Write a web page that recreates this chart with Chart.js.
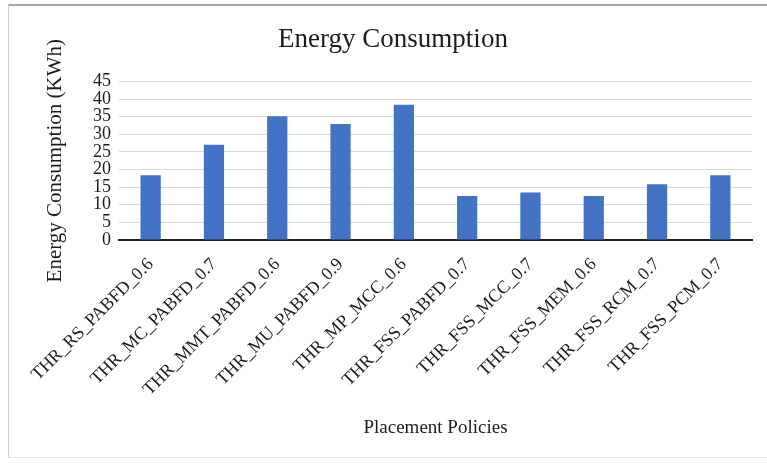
<!DOCTYPE html>
<html>
<head>
<meta charset="utf-8">
<script src="https://cdn.jsdelivr.net/npm/chart.js@4/dist/chart.umd.min.js"></script>
<style>
  html, body { margin: 0; padding: 0; background: #ffffff; }
  #wrap { position: relative; width: 767px; height: 463px; overflow: hidden; }
  #frame {
    position: absolute; left: 8px; top: 4px; width: 770px; height: 454px;
    border-top: 2px solid #a8a8a8; border-left: 1px solid #d2d2d2; border-bottom: 1px solid #e2e2e2;
    box-sizing: border-box; pointer-events: none;
  }
  canvas { position: absolute; left: 0; top: 0; }
</style>
</head>
<body>
<div id="wrap">
  <canvas id="chart" width="767" height="463"></canvas>
  <div id="frame"></div>
</div>
<script>
// Placement policies and their energy consumption (KWh)
const categories = [
  'THR_RS_PABFD_0.6', 'THR_MC_PABFD_0.7', 'THR_MMT_PABFD_0.6', 'THR_MU_PABFD_0.9',
  'THR_MP_MCC_0.6', 'THR_FSS_PABFD_0.7', 'THR_FSS_MCC_0.7', 'THR_FSS_MEM_0.6',
  'THR_FSS_RCM_0.7', 'THR_FSS_PCM_0.7'
];
const energyKWh = [18.4, 27.0, 35.1, 32.9, 38.4, 12.5, 13.5, 12.5, 15.8, 18.4];
const yTicks = [0, 5, 10, 15, 20, 25, 30, 35, 40, 45];

const SERIF = "'Liberation Serif', 'Times New Roman', serif";
const TEXT = '#1c1c1c';

new Chart(document.getElementById('chart'), {
  type: 'bar',
  data: {
    labels: categories,
    datasets: [{
      label: 'Energy Consumption',
      data: energyKWh,
      backgroundColor: '#4472C4',
      borderWidth: 0,
      categoryPercentage: 1.0,
      barPercentage: 0.32
    }]
  },
  options: {
    responsive: false,
    animation: false,
    devicePixelRatio: 1,
    layout: { padding: { left: 34, right: 15, top: 0, bottom: 0 } },
    plugins: {
      legend: { display: false },
      tooltip: { enabled: false },
      title: {
        display: true,
        text: 'Energy Consumption',
        color: TEXT,
        font: { family: SERIF, size: 27, weight: 'normal' },
        padding: { top: 24, bottom: 25 }
      }
    },
    scales: {
      x: {
        z: 1,
        grid: { display: false, drawTicks: false },
        border: { display: true, color: '#222222', width: 2 },
        ticks: {
          color: TEXT,
          font: { family: SERIF, size: 18 },
          minRotation: 45,
          maxRotation: 45,
          padding: 14,
          autoSkip: false
        },
        title: {
          display: true,
          text: 'Placement Policies',
          color: TEXT,
          font: { family: SERIF, size: 19 },
          padding: { top: 0, bottom: 24 }
        },
        afterFit: (scale) => { scale.height = 223; }
      },
      y: {
        min: 0,
        max: 45,
        afterBuildTicks: (scale) => { scale.ticks = yTicks.map(v => ({ value: v })); },
        grid: { color: '#d9d9d9', lineWidth: 1, drawTicks: false },
        border: { display: false },
        ticks: {
          color: TEXT,
          font: { family: SERIF, size: 18 },
          padding: 8,
          autoSkip: false
        },
        title: {
          display: true,
          text: 'Energy Consumption (KWh)',
          color: TEXT,
          font: { family: SERIF, size: 21 },
          padding: { top: 9, bottom: 0 }
        },
        afterFit: (scale) => { scale.width = 85; }
      }
    }
  }
});
</script>
</body>
</html>
